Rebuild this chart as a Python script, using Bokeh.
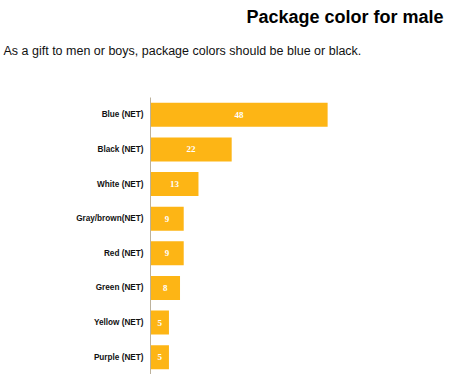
from bokeh.plotting import figure
from bokeh.models import ColumnDataSource, Title, FactorRange, Range1d, LabelSet
from bokeh.embed import file_html
from bokeh.resources import INLINE

categories = ["Blue (NET)", "Black (NET)", "White (NET)", "Gray/brown(NET)",
              "Red (NET)", "Green (NET)", "Yellow (NET)", "Purple (NET)"]
values = [48, 22, 13, 9, 9, 8, 5, 5]
labels = [str(v) for v in values]

title_text = "Package color for male"
subtitle_text = "As a gift to men or boys, package colors should be blue or black."

FONT = "Liberation Sans"
BAR = "#FDB515"

src = ColumnDataSource(dict(cat=categories, val=values, lab=labels,
                            mid=[v / 2 for v in values]))

p = figure(width=450, height=374, output_backend="svg", toolbar_location=None,
           y_range=FactorRange(*reversed(categories), range_padding=0),
           x_range=Range1d(0, 79.4),
           min_border_left=150, min_border_right=7, min_border_top=96,
           min_border_bottom=0)
p.title.text = ""
p.title.visible = False

p.hbar(y="cat", right="val", left=0, height=0.69, source=src,
       fill_color=BAR, line_color=None)

p.add_layout(LabelSet(x="mid", y="cat", text="lab", source=src,
                      text_align="center", text_baseline="middle",
                      text_color="#FFFFFF", text_font=FONT,
                      text_font_style="bold", text_font_size="9px"))

spacer = Title(text=" ", text_font_size="1px", standoff=26)
sub = Title(text=subtitle_text, align="left", offset=-147,
            text_font=FONT, text_font_size="12.5px", text_font_style="normal",
            text_color="#111111", standoff=22)
main = Title(text=title_text, align="right", text_font=FONT,
             text_font_size="18px", text_font_style="bold", text_color="#000000",
             standoff=8)
p.add_layout(spacer, "above")
p.add_layout(sub, "above")
p.add_layout(main, "above")

p.xaxis.visible = False
p.xgrid.visible = False
p.ygrid.visible = False
p.outline_line_color = None

ax = p.yaxis[0]
ax.axis_line_color = "#BCB29C"
ax.axis_line_width = 1
ax.major_tick_line_color = None
ax.minor_tick_line_color = None
ax.major_tick_out = 0
ax.major_tick_in = 0
ax.major_label_standoff = 7
ax.major_label_text_font = FONT
ax.major_label_text_font_style = "bold"
ax.major_label_text_font_size = "8.2px"
ax.major_label_text_color = "#111111"

open("out.html", "w").write(file_html(p, INLINE))
